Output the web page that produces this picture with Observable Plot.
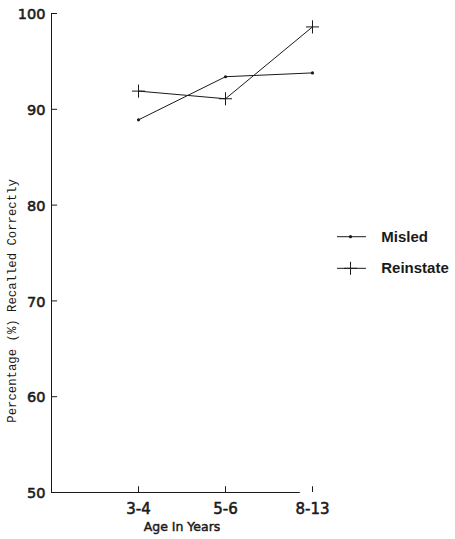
<!DOCTYPE html>
<html>
<head>
<meta charset="utf-8">
<script src="https://cdn.jsdelivr.net/npm/d3@7"></script>
<script src="https://cdn.jsdelivr.net/npm/@observablehq/plot@0.6"></script>
<style>
  html, body { margin: 0; padding: 0; background: #fff; }
  #chart svg { display: block; }
</style>
</head>
<body>
<div id="chart"></div>
<script>
const ageGroups = ["3-4", "5-6", "8-13"];
const misled = [88.9, 93.4, 93.8];
const reinstate = [91.9, 91.1, 98.6];
const yTicks = [50, 60, 70, 80, 90, 100];
const seriesNames = ["Misled", "Reinstate"];
const yTitle = "Percentage (%) Recalled Correctly";
const xTitle = "Age In Years";

const idx = ageGroups.map((_, i) => i);
const misledData = idx.map(i => ({x: i, y: misled[i]}));
const reinstateData = idx.map(i => ({x: i, y: reinstate[i]}));

// legend placed in data coordinates (right of plot area)
const legendRows = [
  {name: seriesNames[0], y: 76.7},
  {name: seriesNames[1], y: 73.4}
];

const ink = "#1a1a1a";
const sans = "'Liberation Sans', Arial, sans-serif";
const wide = "'DejaVu Sans', Verdana, sans-serif";
const medium = {fontFamily: wide, fill: ink, stroke: ink, strokeWidth: 0.55};

const chart = Plot.plot({
  width: 455,
  height: 539,
  marginLeft: 51,
  marginTop: 13,
  marginBottom: 47,
  marginRight: 143,
  style: {background: "#fff", color: ink, fontFamily: sans},
  x: {domain: [-1, 2], axis: null},
  y: {domain: [50, 100], axis: null},
  marks: [
    // axes lines
    Plot.ruleX([-1], {y1: 50, y2: 100, stroke: ink, strokeWidth: 1}),
    Plot.ruleY([50], {x1: -1, x2: 1.86, stroke: ink, strokeWidth: 1}),
    // y ticks (inward)
    Plot.ruleY(yTicks, {x1: -1, x2: -0.93, stroke: ink, strokeWidth: 1}),
    Plot.text(yTicks, {x: -1, y: d => d, text: d => String(d), textAnchor: "end", dx: -6, dy: 1, fontSize: 14.5, ...medium}),
    // x ticks (inward)
    Plot.ruleX(idx, {x: d => d, y1: 50, y2: 50.6, stroke: ink, strokeWidth: 1}),
    Plot.text(idx, {x: d => d, y: 50, text: d => ageGroups[d], dy: 16.5, fontSize: 15, letterSpacing: 1.2, ...medium}),
    // axis titles
    Plot.text([xTitle], {x: 0.5, y: 50, text: d => d, dy: 34, fontSize: 12.5, letterSpacing: 0.5, ...medium, strokeWidth: 0.45}),
    Plot.text([yTitle], {x: -1, y: 70, text: d => d, dx: -39, rotate: -90, fontSize: 12.3, fontFamily: "'Liberation Mono', 'DejaVu Sans Mono', monospace", fill: ink}),
    // series lines
    Plot.line(misledData, {x: "x", y: "y", stroke: ink, strokeWidth: 1}),
    Plot.dot(misledData, {x: "x", y: "y", r: 1.6, fill: ink}),
    Plot.line(reinstateData, {x: "x", y: "y", stroke: ink, strokeWidth: 1}),
    Plot.dot(reinstateData, {x: "x", y: "y", symbol: "plus", r: 4.3, stroke: ink, strokeWidth: 1}),
    // legend
    Plot.ruleY(legendRows, {y: "y", x1: 2.287, x2: 2.62, stroke: ink, strokeWidth: 1}),
    Plot.dot([legendRows[0]], {x: 2.437, y: "y", r: 1.6, fill: ink}),
    Plot.dot([legendRows[1]], {x: 2.437, y: "y", symbol: "plus", r: 4.3, stroke: ink, strokeWidth: 1}),
    Plot.text(legendRows, {x: 2.79, y: "y", text: "name", textAnchor: "start", fontSize: 15, fontWeight: "bold", fill: ink})
  ]
});
document.getElementById("chart").appendChild(chart);
</script>
</body>
</html>
